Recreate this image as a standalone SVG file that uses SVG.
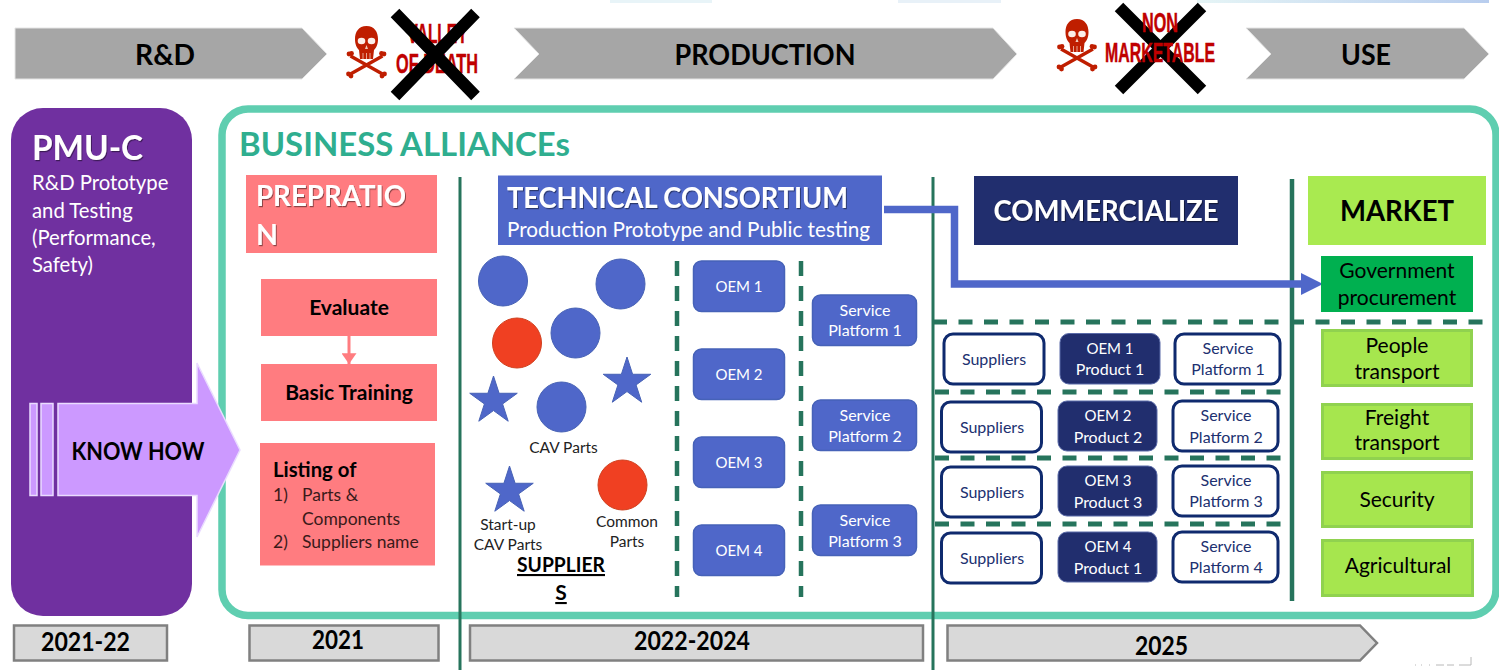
<svg xmlns="http://www.w3.org/2000/svg" width="1499" height="670" viewBox="0 0 1499 670">
<style>
text{font-family:Lato,"Liberation Sans",sans-serif}
.b{font-weight:700}
.m{text-anchor:middle}
.top{fill:#a6a6a6;stroke:#e4e4e4;stroke-width:1}
.k{fill:#000}
.w{fill:#fff}
.wt{fill:#fff;font-weight:700;filter:url(#sh)}
.red{fill:#c00000;stroke:#c00000;stroke-width:.5;font-family:"Liberation Sans",sans-serif;font-weight:700;font-size:27.500px}
.pink{fill:#ff7c80}
.blue{fill:#4f67c9}
.cblue{fill:#4f67c9;stroke:#4762b5;stroke-width:1}
.cred{fill:#f04022;stroke:#d0401f;stroke-width:1}
.vl{stroke:#26745c;fill:none}
.dash{stroke:#26745c;stroke-dasharray:14 11.5;fill:none}
.oem{fill:#4f67c9;stroke:#4662b8;stroke-width:1.500}
.t15{font-size:16px;fill:#fff}
.t15d{font-size:16px;fill:#203070}
.o{font-size:15px}
.sup{fill:#fff;stroke:#0f2a6e;stroke-width:3}
.prod{fill:#212e6e;stroke:#5a6aa8;stroke-width:1}
.mk{fill:#a6e64e;stroke:#90d24f;stroke-width:3}
.g{font-size:21px;fill:#000}
.yr{fill:#d9d9d9;stroke:#808080;stroke-width:2.500}
.yt{font-size:26px;font-weight:700;fill:#000;text-anchor:middle}
.lab{font-size:15.500px;fill:#222}
.lst{font-size:17.500px;fill:#3a1a1a}
.kh{fill:#cc99ff;stroke:#eadcff;stroke-width:1.500}
</style>
<defs>
<filter id="sh" x="-5%" y="-10%" width="110%" height="125%"><feDropShadow dx="1" dy="1.200" stdDeviation="0.700" flood-color="#000" flood-opacity="0.450"/></filter>
<polygon id="star" points="0,-25 5.610,-7.730 23.780,-7.730 9.080,2.950 14.690,20.230 0,9.550 -14.690,20.230 -9.080,2.950 -23.780,-7.730 -5.610,-7.730" fill="#4f67c9" stroke="#4762b5"/>
<linearGradient id="strip" x1="0" x2="1" y1="0" y2="0"><stop offset="0" stop-color="#e6f5f6"/><stop offset="1" stop-color="#b8cdee"/></linearGradient>
<marker id="pa" markerWidth="4" markerHeight="5" refX="3.600" refY="2.500" orient="auto" markerUnits="strokeWidth"><path d="M0 0L3.600 2.500L0 5Z" fill="#ff7c80"/></marker>
<g id="skull">
<path d="M0 0C-8 0-11.500 6-11.500 13C-11.500 19-9.500 22-7.500 24L-6.500 33H6.500L7.500 24C9.500 22 11.500 19 11.500 13C11.500 6 8 0 0 0Z" fill="#bf1e00"/>
<ellipse cx="-5" cy="15" rx="3.800" ry="3.300" fill="#fbeee8"/><ellipse cx="5" cy="15" rx="3.800" ry="3.300" fill="#fbeee8"/>
<path d="M0 19L-1.500 23H1.500Z" fill="#f0c8b8"/>
<path d="M-3.500 27V33M0 27V33M3.500 27V33" stroke="#f0c8b8" stroke-width="0.800"/>
<path d="M-16 30L16 48M16 30L-16 48" stroke="#bf1e00" stroke-width="3.400"/>
<circle cx="-17.500" cy="28" r="2.400" fill="#bf1e00"/><circle cx="-15" cy="27.500" r="2.400" fill="#bf1e00"/>
<circle cx="17.500" cy="28" r="2.400" fill="#bf1e00"/><circle cx="15" cy="27.500" r="2.400" fill="#bf1e00"/>
<circle cx="-18" cy="48" r="2.400" fill="#bf1e00"/><circle cx="-15.500" cy="50" r="2.400" fill="#bf1e00"/>
<circle cx="18" cy="48" r="2.400" fill="#bf1e00"/><circle cx="15.500" cy="50" r="2.400" fill="#bf1e00"/>
</g>
</defs>

<g id="top-strips">
<rect x="610" y="0" width="102" height="3" fill="#e8f4f8"/>
<rect x="898" y="0" width="103" height="3" fill="#e8f1f8"/>
<rect x="1197" y="0" width="292" height="3" fill="url(#strip)"/>
</g>
<path id="stray-marks" d="M1415 665h1M1421 665h1M1429 665h1M1436 665h8M1447 665h7M1459 665h12V657" stroke="#b8b8b8" stroke-width="1" fill="none"/>

<g id="phase-rd"><polygon class="top" points="15,28 302,28 327,54 302,79 15,79"/><text class="b m k" x="165" y="65" font-size="29" textLength="60" lengthAdjust="spacingAndGlyphs">R&amp;D</text></g>
<g id="phase-production"><polygon class="top" points="514,28 993,28 1017,54 993,79 514,79 539,54"/><text class="b m k" x="765" y="65" font-size="29" textLength="181" lengthAdjust="spacingAndGlyphs">PRODUCTION</text></g>
<g id="phase-use"><polygon class="top" points="1246,28 1464,28 1489,54 1464,79 1246,79 1271,54"/><text class="b m k" x="1366" y="65" font-size="29" textLength="50" lengthAdjust="spacingAndGlyphs">USE</text></g>

<g id="valley-of-death">
<use href="#skull" transform="translate(366.500,26)"/>
<text class="red m" x="437.500" y="43" textLength="60" lengthAdjust="spacingAndGlyphs">VALLEY</text>
<text class="red m" x="437" y="73" textLength="82" lengthAdjust="spacingAndGlyphs">OF DEATH</text>
<path d="M395 13L475.500 96M475.500 13L395 96" stroke="#000" stroke-width="12"/>
</g>
<g id="non-marketable">
<use href="#skull" transform="translate(1077,19)"/>
<path d="M1119 7L1202 90M1202 7L1119 90" stroke="#000" stroke-width="12"/>
<text class="red m" x="1160" y="32" textLength="36" lengthAdjust="spacingAndGlyphs">NON</text>
<text class="red m" x="1160" y="62" textLength="110" lengthAdjust="spacingAndGlyphs">MARKETABLE</text>
</g>

<g id="pmu-c">
<rect x="11" y="108" width="181" height="508" rx="32" fill="#7030a0"/>
<text class="wt" x="32" y="160" font-size="34" textLength="111" lengthAdjust="spacingAndGlyphs">PMU-C</text>
<text class="w" font-size="20.300">
<tspan x="32" y="190">R&amp;D Prototype</tspan>
<tspan x="32" y="218">and Testing</tspan>
<tspan x="32" y="245">(Performance,</tspan>
<tspan x="32" y="272">Safety)</tspan>
</text>
</g>

<g id="business-alliances">
<rect x="222" y="109" width="1274" height="506.500" rx="26" fill="#fff" stroke="#5fceb0" stroke-width="7.500"/>
<text class="b" x="239" y="156" font-size="33" fill="#2fae8f" textLength="331" lengthAdjust="spacingAndGlyphs">BUSINESS ALLIANCEs</text>
</g>

<g id="know-how">
<rect class="kh" x="30" y="403.500" width="7" height="92"/>
<rect class="kh" x="41" y="403.500" width="12" height="92"/>
<polygon class="kh" points="58,403.500 197,403.500 197,363 240,450 197,537 197,495.500 58,495.500"/>
<text class="b m k" x="138" y="460" font-size="24" textLength="133" lengthAdjust="spacingAndGlyphs">KNOW HOW</text>
</g>

<g id="connectors">
<path d="M460 177V670M933 177V670" class="vl" stroke-width="3"/>
<path d="M1292 179V601" class="vl" stroke-width="4.500"/>
<path d="M677 261V597M801 261V597" class="dash" stroke-width="4.500" style="stroke-dasharray:15 10"/>
<path d="M933 322H1493" class="dash" stroke-width="5"/>
<path d="M935 392H1289M935 458H1289M935 524H1289" class="dash" stroke-width="5"/>
<path d="M349 336V364" stroke="#ff7c80" stroke-width="3" fill="none" marker-end="url(#pa)"/>
<path d="M884 209.500H954.500V284H1305" stroke="#4f67c9" stroke-width="7.500" fill="none"/>
<polygon points="1301,273 1323,284 1301,295" fill="#4f67c9"/>
</g>

<g id="preparation">
<rect class="pink" x="246" y="175" width="191" height="78"/>
<text class="wt" x="256" y="206" font-size="28.500" textLength="150" lengthAdjust="spacingAndGlyphs">PREPRATIO</text>
<text class="wt" x="256" y="245" font-size="28.500">N</text>
</g>
<g id="evaluate"><rect class="pink" x="261" y="279" width="176" height="57"/><text class="b m k" x="349" y="315" font-size="21">Evaluate</text></g>
<g id="basic-training"><rect class="pink" x="261" y="364" width="176" height="57"/><text class="b m k" x="349" y="400" font-size="21">Basic Training</text></g>
<g id="listing">
<rect class="pink" x="260" y="443" width="175" height="122.500"/>
<text class="b k" x="273" y="477" font-size="20.300">Listing of</text>
<text class="lst"><tspan x="273" y="501">1)</tspan><tspan x="302" y="501">Parts &amp;</tspan><tspan x="302" y="525">Components</tspan><tspan x="273" y="548">2)</tspan><tspan x="302" y="548">Suppliers name</tspan></text>
</g>

<g id="technical-consortium">
<rect class="blue" x="498" y="175.500" width="384" height="69.500"/>
<text class="wt" x="507" y="208" font-size="28" textLength="341" lengthAdjust="spacingAndGlyphs">TECHNICAL CONSORTIUM</text>
<text class="w" x="507" y="237" font-size="20.500" textLength="363" lengthAdjust="spacingAndGlyphs">Production Prototype and Public testing</text>
</g>
<g id="commercialize"><rect x="974" y="176" width="264" height="69" fill="#212e6e"/><text class="wt m" x="1106" y="221" font-size="29" textLength="225" lengthAdjust="spacingAndGlyphs">COMMERCIALIZE</text></g>
<g id="market"><rect x="1308" y="176" width="178" height="69" fill="#a9ea50"/><text class="b m k" x="1397" y="221" font-size="29" textLength="114" lengthAdjust="spacingAndGlyphs">MARKET</text></g>

<g id="suppliers-parts">
<ellipse class="cblue" cx="503" cy="281" rx="24.500" ry="25"/>
<ellipse class="cblue" cx="620.500" cy="284" rx="24.500" ry="25"/>
<ellipse class="cblue" cx="575.500" cy="333" rx="24.500" ry="25"/>
<ellipse class="cred" cx="517" cy="343" rx="24.500" ry="25"/>
<ellipse class="cblue" cx="561.500" cy="407" rx="24.500" ry="25"/>
<use href="#star" x="493.500" y="401"/>
<use href="#star" x="627" y="382"/>
<use href="#star" x="509.500" y="491"/>
<ellipse class="cred" cx="622.500" cy="485" rx="24.500" ry="25"/>
<text class="lab m" x="563.500" y="453">CAV Parts</text>
<text class="lab m"><tspan x="508" y="530">Start-up</tspan><tspan x="508" y="550">CAV Parts</tspan></text>
<text class="lab m"><tspan x="627" y="527">Common</tspan><tspan x="627" y="547">Parts</tspan></text>
<text class="b m k" font-size="21" text-decoration="underline"><tspan x="561" y="572" textLength="88" lengthAdjust="spacingAndGlyphs">SUPPLIER</tspan><tspan x="561" y="600">S</tspan></text>
</g>

<g id="oem-1"><rect class="oem" x="693.500" y="261" width="91" height="50.500" rx="8"/><text class="t15 o m" x="739" y="292">OEM 1</text></g>
<g id="oem-2"><rect class="oem" x="693.500" y="349" width="91" height="50.500" rx="8"/><text class="t15 o m" x="739" y="380">OEM 2</text></g>
<g id="oem-3"><rect class="oem" x="693.500" y="437" width="91" height="50.500" rx="8"/><text class="t15 o m" x="739" y="468">OEM 3</text></g>
<g id="oem-4"><rect class="oem" x="693.500" y="525" width="91" height="50.500" rx="8"/><text class="t15 o m" x="739" y="556">OEM 4</text></g>

<g id="service-1"><rect class="oem" x="812.500" y="295" width="104" height="50.500" rx="8"/><text class="t15 m"><tspan x="865" y="316">Service</tspan><tspan x="865" y="336">Platform 1</tspan></text></g>
<g id="service-2"><rect class="oem" x="812.500" y="400" width="104" height="50.500" rx="8"/><text class="t15 m"><tspan x="865" y="421">Service</tspan><tspan x="865" y="442">Platform 2</tspan></text></g>
<g id="service-3"><rect class="oem" x="812.500" y="505" width="104" height="50.500" rx="8"/><text class="t15 m"><tspan x="865" y="526">Service</tspan><tspan x="865" y="547">Platform 3</tspan></text></g>

<g id="row1-suppliers"><rect class="sup" x="944" y="334" width="100" height="50" rx="9"/><text class="t15d m" x="994" y="365">Suppliers</text></g>
<g id="row1-product"><rect class="prod" x="1060" y="333.500" width="100" height="50.500" rx="9"/><text class="t15 m"><tspan class="o" x="1110" y="354">OEM 1</tspan><tspan x="1110" y="375">Product 1</tspan></text></g>
<g id="row1-service"><rect class="sup" x="1175" y="334" width="105" height="50" rx="9"/><text class="t15d m"><tspan x="1228" y="354">Service</tspan><tspan x="1228" y="375">Platform 1</tspan></text></g>

<g id="row2-suppliers"><rect class="sup" x="941.500" y="402" width="100" height="50" rx="9"/><text class="t15d m" x="992" y="433">Suppliers</text></g>
<g id="row2-product"><rect class="prod" x="1058" y="401" width="99" height="50" rx="9"/><text class="t15 m"><tspan class="o" x="1108" y="421">OEM 2</tspan><tspan x="1108" y="443">Product 2</tspan></text></g>
<g id="row2-service"><rect class="sup" x="1173" y="401" width="105" height="50" rx="9"/><text class="t15d m"><tspan x="1226" y="421">Service</tspan><tspan x="1226" y="443">Platform 2</tspan></text></g>

<g id="row3-suppliers"><rect class="sup" x="941.500" y="467" width="100" height="50" rx="9"/><text class="t15d m" x="992" y="498">Suppliers</text></g>
<g id="row3-product"><rect class="prod" x="1058" y="466" width="99" height="50" rx="9"/><text class="t15 m"><tspan class="o" x="1108" y="486">OEM 3</tspan><tspan x="1108" y="508">Product 3</tspan></text></g>
<g id="row3-service"><rect class="sup" x="1173" y="466" width="105" height="50" rx="9"/><text class="t15d m"><tspan x="1226" y="486">Service</tspan><tspan x="1226" y="507">Platform 3</tspan></text></g>

<g id="row4-suppliers"><rect class="sup" x="941.500" y="533" width="100" height="50" rx="9"/><text class="t15d m" x="992" y="564">Suppliers</text></g>
<g id="row4-product"><rect class="prod" x="1058" y="532" width="99" height="50" rx="9"/><text class="t15 m"><tspan class="o" x="1108" y="552">OEM 4</tspan><tspan x="1108" y="574">Product 1</tspan></text></g>
<g id="row4-service"><rect class="sup" x="1173" y="532" width="105" height="50" rx="9"/><text class="t15d m"><tspan x="1226" y="552">Service</tspan><tspan x="1226" y="573">Platform 4</tspan></text></g>

<g id="government"><rect x="1321" y="256" width="152" height="56" fill="#00b050"/><text class="g m"><tspan x="1397" y="278">Government</tspan><tspan x="1397" y="305">procurement</tspan></text></g>
<g id="people"><rect class="mk" x="1322.500" y="330.500" width="149" height="55"/><text class="g m"><tspan x="1397" y="353">People</tspan><tspan x="1397" y="379">transport</tspan></text></g>
<g id="freight"><rect class="mk" x="1322.500" y="404.500" width="149" height="54"/><text class="g m"><tspan x="1397" y="425">Freight</tspan><tspan x="1397" y="450">transport</tspan></text></g>
<g id="security"><rect class="mk" x="1322.500" y="472.500" width="149" height="54"/><text class="g m" x="1397" y="507">Security</text></g>
<g id="agricultural"><rect class="mk" x="1322.500" y="540.500" width="150" height="55"/><text class="g m" x="1398" y="573">Agricultural</text></g>

<g id="years">
<rect class="yr" x="14" y="625.500" width="153" height="35"/><text class="yt" x="85.500" y="651" textLength="89" lengthAdjust="spacingAndGlyphs">2021-22</text>
<rect class="yr" x="249.500" y="625.500" width="189" height="35"/><text class="yt" x="338" y="649" textLength="52" lengthAdjust="spacingAndGlyphs">2021</text>
<rect class="yr" x="470" y="625.500" width="453" height="35"/><text class="yt" x="692" y="650" textLength="116" lengthAdjust="spacingAndGlyphs">2022-2024</text>
<polygon class="yr" points="947.500,625.500 1360,625.500 1377,643 1360,660.500 947.500,660.500"/><text class="yt" x="1161.500" y="655" textLength="53" lengthAdjust="spacingAndGlyphs">2025</text>
</g>
</svg>
